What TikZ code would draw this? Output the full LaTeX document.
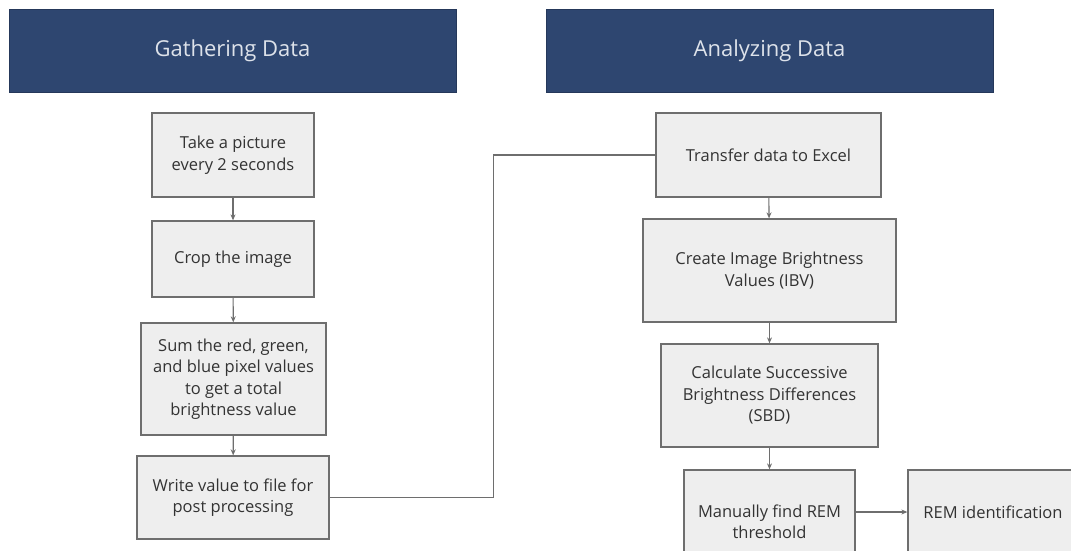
\documentclass[tikz,border=0pt]{standalone}
\usepackage{fontspec}
\setmainfont{Open Sans}
\usetikzlibrary{arrows.meta}

\definecolor{headblue}{HTML}{2E4670}
\definecolor{headtext}{HTML}{DDE2EA}
\definecolor{boxgray}{HTML}{EEEEEE}
\definecolor{edgegray}{HTML}{6E6E6E}
\definecolor{textgray}{HTML}{333333}

\begin{document}
\begin{tikzpicture}[x=1pt,y=-1pt,
  header/.style={fill=headblue,draw=headblue!80!black,line width=0.8pt,
    text=headtext,font=\fontsize{22}{26}\selectfont,
    minimum width=447pt,minimum height=83pt,inner sep=0pt},
  stepbox/.style={fill=boxgray,draw=edgegray,line width=1.3pt,text=textgray,
    align=center,font=\fontsize{16.5}{21.5}\selectfont,inner sep=0pt},
  flow/.style={draw=edgegray,line width=1.1pt,-{Stealth[length=6pt,width=5pt]}}]
\useasboundingbox (0,0) rectangle (1071,550);
\clip (0,0) rectangle (1071,550);

\node[header] (gather) at (232.5,50.5) {Gathering Data};
\node[header] (analyze) at (769.5,50.5) {Analyzing Data};

% gathering steps
\node[stepbox,minimum width=162pt,minimum height=84pt] (take) at (233,155)
  {Take a picture\\every 2 seconds};
\node[stepbox,minimum width=162pt,minimum height=76pt] (crop) at (233,259)
  {Crop the image};
\node[stepbox,minimum width=185pt,minimum height=112pt] (sum) at (233.5,379)
  {Sum the red, green,\\and blue pixel values\\to get a total\\brightness value};
\node[stepbox,minimum width=192pt,minimum height=83pt] (write) at (233,497.5)
  {Write value to file for\\post processing};

% analyzing steps
\node[stepbox,minimum width=225pt,minimum height=84pt] (transfer) at (768.5,155)
  {Transfer data to Excel};
\node[stepbox,minimum width=253pt,minimum height=103pt] (ibv) at (769.5,270.5)
  {Create Image Brightness\\Values (IBV)};
\node[stepbox,minimum width=217pt,minimum height=103pt] (sbd) at (769.5,395.5)
  {Calculate Successive\\Brightness Differences\\(SBD)};
\node[stepbox,minimum width=171pt,minimum height=104pt] (manual) at (769.5,522)
  {Manually find REM\\threshold};
\node[stepbox,minimum width=170pt,minimum height=84pt] (rem) at (993,512)
  {REM identification};

\draw[flow] (take) -- (crop);
\draw[flow] (crop) -- (sum);
\draw[flow] (sum) -- (write);
\draw[draw=edgegray,line width=1.1pt] (write.east) -- ++(164,0) |- (transfer.west);
\draw[flow] (transfer) -- (ibv);
\draw[flow] (ibv) -- (sbd);
\draw[flow] (sbd) -- (manual);
\draw[flow] (manual.east |- rem) -- (rem.west);
\end{tikzpicture}
\end{document}
